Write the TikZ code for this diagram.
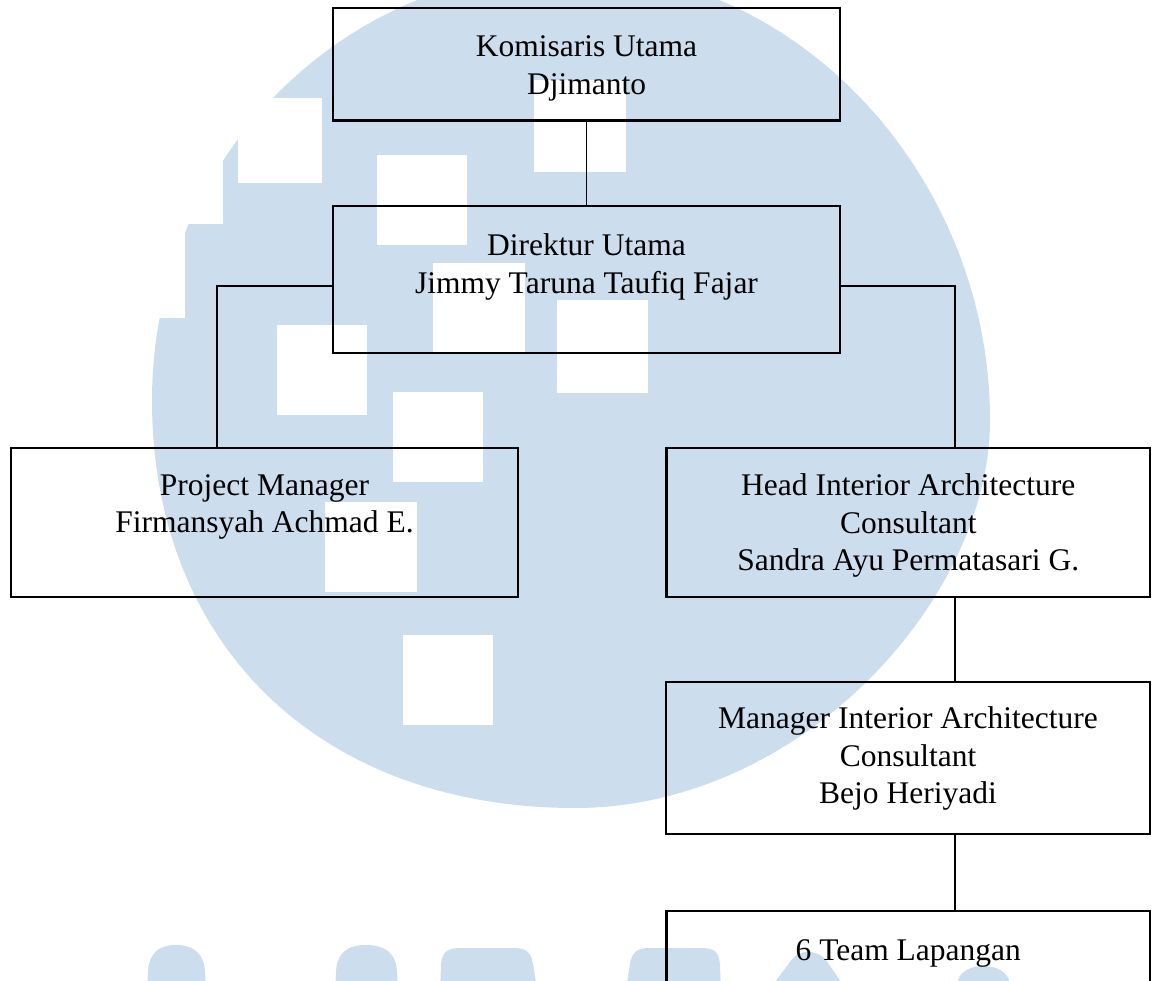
\documentclass[tikz,border=0pt]{standalone}
\usepackage{fontspec}
\setmainfont{Liberation Serif}
\definecolor{wm}{RGB}{204,221,237}
\begin{document}
\begin{tikzpicture}[x=1pt,y=-1pt,
  box/.style={draw=black, line width=2.6pt, rectangle, inner sep=0pt},
  lbl/.style={align=center, font=\fontsize{31.5}{37.5}\selectfont, inner sep=0pt},
  conn/.style={draw=black, line width=1.9pt},
  hole/.style={fill=white, draw=none}]
\useasboundingbox (0,0) rectangle (1153,981);
% watermark
\begin{scope}
\clip (0,0) rectangle (1153,981);
\fill[wm] (571,-30) .. controls (802,-30) and (990,180) .. (990,420)
  .. controls (990,600) and (800,808) .. (575,808)
  .. controls (321,808) and (152,646) .. (152,400)
  .. controls (152,163) and (340,-30) .. (571,-30) -- cycle;
\fill[hole] (238,98) rectangle (322,183);
\fill[hole] (377,155) rectangle (467,245);
\fill[hole] (534,80) rectangle (626,172);
\fill[hole] (433,263) rectangle (525,353);
\fill[hole] (557,300) rectangle (648,393);
\fill[hole] (277,325) rectangle (367,415);
\fill[hole] (393,392) rectangle (483,482);
\fill[hole] (325,502) rectangle (417,592);
\fill[hole] (403,635) rectangle (493,725);
\fill[hole] (100,120) rectangle (223,224);
\fill[hole] (100,224) rectangle (185,318);
% letters at the bottom
\fill[wm] (147,995) -- (148,972) .. controls (149,952) and (160,945) .. (176,945)
  .. controls (192,945) and (204,952) .. (205,972) -- (206,995) -- cycle;
\fill[wm] (335,995) -- (336,972) .. controls (337,952) and (348,945) .. (366,945)
  .. controls (384,945) and (396,952) .. (397,972) -- (398,995) -- cycle;
\fill[wm] (440,995) -- (441,965) .. controls (442,951) and (448,948) .. (462,948)
  -- (513,948) .. controls (526,948) and (531,952) .. (533,964) -- (538,995) -- cycle;
\fill[wm] (625,995) -- (630,964) .. controls (632,952) and (637,948) .. (650,948)
  -- (700,948) .. controls (714,948) and (719,951) .. (720,965) -- (721,995) -- cycle;
\fill[wm] (765,995) -- (790,962) .. controls (796,954) and (800,952) .. (808,952)
  .. controls (818,952) and (824,956) .. (830,966) -- (850,995) -- cycle;
\fill[wm] (956,995) -- (957,985) .. controls (958,972) and (970,966) .. (983,966)
  .. controls (997,966) and (1009,972) .. (1010,985) -- (1011,995) -- cycle;
\end{scope}
% boxes
\node[box, minimum width=507pt, minimum height=112.5pt] (b1) at (586.5,64.25) {};
\node[box, minimum width=507pt, minimum height=147pt] (b2) at (586.5,279.5) {};
\node[box, minimum width=507pt, minimum height=149pt] (b3) at (264.5,522.5) {};
\node[box, minimum width=483.5pt, minimum height=149pt] (b4) at (908.25,522.5) {};
\node[box, minimum width=484pt, minimum height=152pt] (b5) at (908,758) {};
\node[box, minimum width=483.5pt, minimum height=149pt] (b6) at (908.25,985.5) {};
% texts
\node[lbl] (t1) at (586.5,68.5) {Komisaris Utama\\Djimanto};
\node[lbl] (t2) at (586.5,267) {Direktur Utama\\Jimmy Taruna Taufiq Fajar};
\node[lbl] (t3) at (264.5,507) {Project Manager\\Firmansyah Achmad E.};
\node[lbl] (t4) at (908.25,525.5) {Head Interior Architecture\\Consultant\\Sandra Ayu Permatasari G.};
\node[lbl] (t5) at (908,758.5) {Manager Interior Architecture\\Consultant\\Bejo Heriyadi};
\node[lbl] (t6) at (908.25,953) {6 Team Lapangan};
% connectors
\coordinate (lx) at (217,0);
\coordinate (rx) at (955,0);
\draw[conn] (b1.south) -- (b2.north);
\draw[conn] ([yshift=-6.5pt]b2.west) -| (b3.north -| lx);
\draw[conn] ([yshift=-6.5pt]b2.east) -| (b4.north -| rx);
\draw[conn] (b4.south -| rx) -- (b5.north -| rx);
\draw[conn] (b5.south -| rx) -- (b6.north -| rx);
\end{tikzpicture}
\end{document}
